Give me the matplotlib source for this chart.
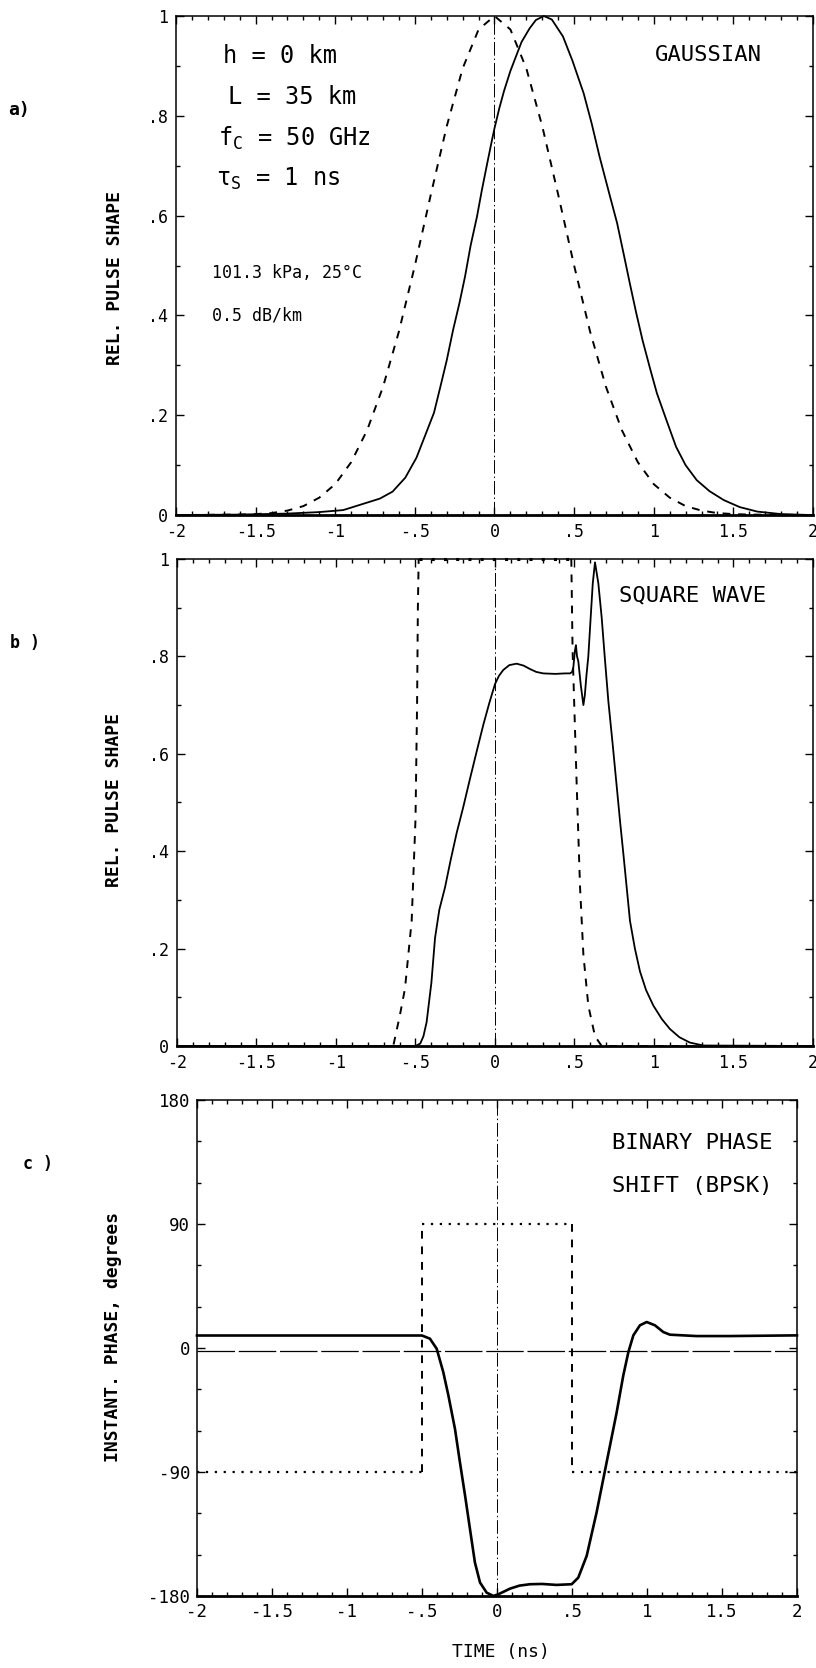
"""
Pulse distortion over a 35 km path: gaussian, square wave and BPSK input.
"""

import matplotlib.pyplot as plt
from matplotlib.ticker import MultipleLocator

plt.rcParams["font.family"] = ["DejaVu Sans Mono", "DejaVu Sans"]
plt.rcParams["mathtext.default"] = "regular"

# tick labels
x_ticks = [-2, -1.5, -1, -0.5, 0, 0.5, 1, 1.5, 2]
x_ticklabels = ["-2", "-1.5", "-1", "-.5", "0", ".5", "1", "1.5", "2"]
shape_ticks = [0, 0.2, 0.4, 0.6, 0.8, 1]
shape_ticklabels = ["0", ".2", ".4", ".6", ".8", "1"]
phase_ticks = [-180, -90, 0, 90, 180]
phase_ticklabels = ["-180", "-90", "0", "90", "180"]

# a) gaussian pulse: input (dashed) and received (solid)
gauss_in_t = [-2.0, -1.6, -1.5, -1.4, -1.3, -1.2, -1.1, -1.0, -0.9, -0.8, -0.7,
              -0.6, -0.5, -0.4, -0.3, -0.2, -0.1, 0.0, 0.1, 0.2, 0.3, 0.4, 0.5,
              0.6, 0.7, 0.8, 0.9, 1.0, 1.1, 1.2, 1.3, 1.4, 1.5, 1.6, 2.0]
gauss_in_v = [0, 0.001, 0.002, 0.004, 0.009, 0.018, 0.035, 0.062, 0.106, 0.17,
              0.257, 0.368, 0.5, 0.642, 0.779, 0.895, 0.973, 1.0, 0.973, 0.895,
              0.779, 0.642, 0.5, 0.368, 0.257, 0.17, 0.106, 0.062, 0.035, 0.018,
              0.009, 0.004, 0.002, 0.001, 0]
gauss_out_t = [-2.0, -1.6, -1.3, -1.1, -0.95, -0.82, -0.72, -0.64, -0.56, -0.49,
               -0.43, -0.38, -0.34, -0.30, -0.26, -0.22, -0.185, -0.15, -0.11,
               -0.08, -0.05, -0.02, 0.0, 0.03, 0.06, 0.10, 0.13, 0.17, 0.22,
               0.26, 0.31, 0.36, 0.43, 0.49, 0.56, 0.61, 0.66, 0.72, 0.77, 0.81,
               0.85, 0.89, 0.93, 0.98, 1.02, 1.08, 1.14, 1.2, 1.27, 1.35, 1.44,
               1.54, 1.65, 1.8, 2.0]
gauss_out_v = [0, 0.001, 0.003, 0.006, 0.01, 0.023, 0.033, 0.047, 0.075, 0.115,
               0.164, 0.205, 0.257, 0.31, 0.371, 0.425, 0.478, 0.54, 0.598,
               0.65, 0.698, 0.745, 0.775, 0.815, 0.85, 0.89, 0.915, 0.948, 0.975,
               0.992, 1.0, 0.993, 0.959, 0.91, 0.845, 0.785, 0.718, 0.645, 0.585,
               0.525, 0.464, 0.405, 0.35, 0.29, 0.244, 0.19, 0.137, 0.1, 0.07,
               0.048, 0.03, 0.016, 0.007, 0.002, 0]

# b) square wave: input (dashed edges, dotted top) and received (solid)
sq_in_t = [-2.0, -0.64, -0.60, -0.566, -0.524, -0.50, -0.49, -0.485, -0.48,
           0.48, 0.488, 0.514, 0.535, 0.556, 0.587, 0.629, 0.671, 2.0]
sq_in_v = [0, 0, 0.06, 0.118, 0.257, 0.465, 0.7, 0.9, 1.0,
           1.0, 0.8125, 0.535, 0.326, 0.1875, 0.083, 0.02, 0, 0]
sq_out_t = [-2.0, -0.50, -0.47, -0.45, -0.43, -0.40, -0.377, -0.35, -0.314,
            -0.28, -0.241, -0.2, -0.157, -0.115, -0.073, -0.035, 0.0, 0.025,
            0.052, 0.09, 0.136, 0.18, 0.22, 0.26, 0.304, 0.38, 0.44, 0.472,
            0.485, 0.493, 0.502, 0.509, 0.516, 0.524, 0.54, 0.556, 0.565, 0.575,
            0.587, 0.60, 0.615, 0.629, 0.65, 0.671, 0.69, 0.713, 0.74, 0.765,
            0.787, 0.807, 0.83, 0.849, 0.88, 0.912, 0.95, 0.996, 1.05, 1.10,
            1.16, 1.226, 1.31, 2.0]
sq_out_v = [0, 0, 0.005, 0.02, 0.049, 0.13, 0.222, 0.28, 0.326, 0.38, 0.4375,
            0.49, 0.549, 0.605, 0.66, 0.705, 0.743, 0.76, 0.772, 0.782, 0.785,
            0.781, 0.774, 0.768, 0.765, 0.764, 0.765, 0.765, 0.768, 0.778, 0.81,
            0.823, 0.80, 0.79, 0.74, 0.70, 0.72, 0.76, 0.80, 0.87, 0.95, 0.993,
            0.95, 0.88, 0.80, 0.708, 0.62, 0.535, 0.46, 0.396, 0.32, 0.257, 0.2,
            0.153, 0.115, 0.083, 0.055, 0.035, 0.018, 0.007, 0.001, 0]

# c) binary phase shift: input phase and received instantaneous phase
bpsk_in_t = [-2.0, -0.5, -0.5, 0.5, 0.5, 2.0]
bpsk_in_deg = [-90, -90, 90, 90, -90, -90]
bpsk_out_t = [-2.0, -0.5, -0.447, -0.402, -0.358, -0.324, -0.28, -0.247, -0.213,
              -0.18, -0.147, -0.113, -0.069, -0.024, 0.009, 0.087, 0.15, 0.22,
              0.30, 0.398, 0.498, 0.542, 0.598, 0.664, 0.731, 0.798, 0.842,
              0.876, 0.909, 0.953, 0.998, 1.053, 1.109, 1.153, 1.33, 1.553, 2.0]
bpsk_out_deg = [9, 9, 6.7, -0.6, -17.6, -34.5, -58.8, -83, -107, -131.5, -155.8,
                -170.3, -177.6, -180, -178.8, -174.7, -172.5, -171.5, -171.3,
                -172, -171.5, -166.7, -150.9, -119.4, -83, -46.7, -20, -3, 9.1,
                16.4, 18.8, 16.4, 11.5, 9.6, 8.6, 8.6, 9.1]
ref_t = [-2.0, 2.0]
ref_deg = [-2, -2]

DASHED = (0, (4, 4))
DOTTED = (0, (1, 3))
DASHDOT = (0, (14, 3, 1.5, 3))


def style_axes(ax, yticks, yticklabels, ylim, yminor, labelsize):
    ax.set_xlim(-2, 2)
    ax.set_ylim(*ylim)
    ax.set_xticks(x_ticks)
    ax.set_xticklabels(x_ticklabels)
    ax.set_yticks(yticks)
    ax.set_yticklabels(yticklabels)
    ax.xaxis.set_minor_locator(MultipleLocator(0.1))
    ax.yaxis.set_minor_locator(MultipleLocator(yminor))
    ax.tick_params(which="both", direction="in", top=True, right=True,
                   width=1, labelsize=labelsize)
    ax.tick_params(which="major", length=6, pad=6)
    ax.tick_params(which="minor", length=3)
    for side in ["top", "left", "right"]:
        ax.spines[side].set_linewidth(1.1)
    ax.spines["bottom"].set_linewidth(2)
    ax.axvline(0, color="black", lw=0.7, linestyle=DASHDOT)


fig = plt.figure(figsize=(8.16, 16.68), dpi=100)

# ---- a) gaussian
ax_a = fig.add_axes([0.2157, 0.6912, 0.7806, 0.2992])
style_axes(ax_a, shape_ticks, shape_ticklabels, (0, 1), 0.1, 12)
ax_a.plot(gauss_in_t, gauss_in_v, color="black", lw=1.4, linestyle=DASHED,
          clip_on=False)
ax_a.plot(gauss_out_t, gauss_out_v, color="black", lw=1.3, clip_on=False)
ax_a.text(0.92, 0.922, "GAUSSIAN", transform=ax_a.transAxes, ha="right",
          va="center", fontsize=16)
params = [
    (0.074, 0.920, "h = 0 km", 17),
    (0.082, 0.838, "L = 35 km", 17),
    (0.066, 0.755, r"f$_C$ = 50 GHz", 17),
    (0.063, 0.673, r"τ$_S$ = 1 ns", 17),
    (0.056, 0.485, "101.3 kPa, 25°C", 12),
    (0.056, 0.400, "0.5 dB/km", 12),
]
for x, y, label, size in params:
    ax_a.text(x, y, label, transform=ax_a.transAxes, ha="left", va="center",
              fontsize=size)

# ---- b) square wave
ax_b = fig.add_axes([0.2169, 0.3729, 0.7794, 0.2920])
style_axes(ax_b, shape_ticks, shape_ticklabels, (0, 1), 0.1, 12)
ax_b.plot(sq_in_t[:9], sq_in_v[:9], color="black", lw=1.4, linestyle=DASHED,
          clip_on=False)
ax_b.plot(sq_in_t[8:10], sq_in_v[8:10], color="black", lw=2.2, linestyle=DOTTED,
          clip_on=False)
ax_b.plot(sq_in_t[9:], sq_in_v[9:], color="black", lw=1.4, linestyle=DASHED,
          clip_on=False)
ax_b.plot(sq_out_t, sq_out_v, color="black", lw=1.3, clip_on=False)
ax_b.text(0.926, 0.926, "SQUARE WAVE", transform=ax_b.transAxes, ha="right",
          va="center", fontsize=16)

# ---- c) BPSK
ax_c = fig.add_axes([0.2414, 0.0432, 0.7353, 0.2974])
style_axes(ax_c, phase_ticks, phase_ticklabels, (-180, 180), 30, 12.5)
ax_c.tick_params(which="major", pad=5)
ax_c.plot(ref_t, ref_deg, color="black", lw=0.9, linestyle=(0, (30, 3)))
for i in range(0, 6, 2):
    ax_c.plot(bpsk_in_t[i:i + 2], bpsk_in_deg[i:i + 2], color="black", lw=1.6,
              linestyle=DOTTED)
for i in range(1, 5, 2):
    ax_c.plot(bpsk_in_t[i:i + 2], bpsk_in_deg[i:i + 2], color="black", lw=1.4,
              linestyle=DASHED)
ax_c.plot(bpsk_out_t, bpsk_out_deg, color="black", lw=1.9, clip_on=False)
ax_c.text(0.691, 0.913, "BINARY PHASE", transform=ax_c.transAxes, ha="left",
          va="center", fontsize=16)
ax_c.text(0.691, 0.827, "SHIFT (BPSK)", transform=ax_c.transAxes, ha="left",
          va="center", fontsize=16)

# axis titles and panel letters
fig.text(0.614, 1 - 1652 / 1668, "TIME (ns)", ha="center", va="center",
         fontsize=13)
fig.text(0.141, 0.8333, "REL. PULSE SHAPE", rotation=90, ha="center",
         va="center", fontsize=13, fontweight="bold")
fig.text(0.140, 0.5204, "REL. PULSE SHAPE", rotation=90, ha="center",
         va="center", fontsize=13, fontweight="bold")
fig.text(0.139, 0.1984, "INSTANT. PHASE, degrees", rotation=90, ha="center",
         va="center", fontsize=13, fontweight="bold")
fig.text(0.010, 1 - 110 / 1668, "a)", ha="left", va="center", fontsize=13,
         fontweight="bold")
fig.text(0.012, 1 - 643 / 1668, "b )", ha="left", va="center", fontsize=12,
         fontweight="bold")
fig.text(0.028, 1 - 1164 / 1668, "c )", ha="left", va="center", fontsize=12,
         fontweight="bold")

fig.savefig("out.png", dpi=100)
plt.close(fig)
